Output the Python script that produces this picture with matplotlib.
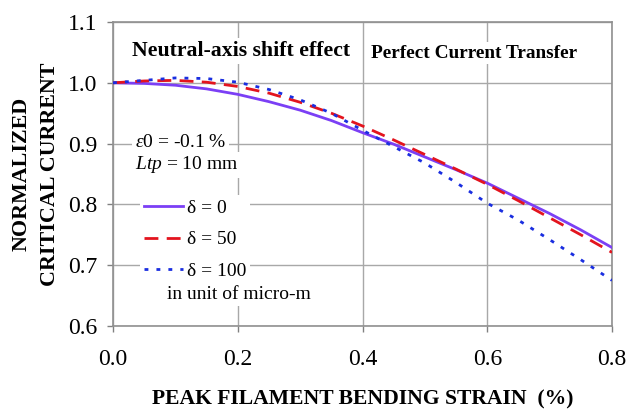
import numpy as np
import matplotlib
matplotlib.use("Agg")
import matplotlib.pyplot as plt
from matplotlib.lines import Line2D

plt.rcParams['font.family'] = ['Liberation Serif', 'DejaVu Serif']
plt.rcParams['mathtext.fontset'] = 'custom'
plt.rcParams['mathtext.rm'] = 'Liberation Serif'
plt.rcParams['mathtext.it'] = 'Liberation Serif:italic'

# Peak filament bending strain (%)
strain = [0.00, 0.05, 0.10, 0.15, 0.20, 0.25, 0.30, 0.35, 0.40,
          0.45, 0.50, 0.55, 0.60, 0.65, 0.70, 0.75, 0.80]

# Normalized critical current for each neutral-axis shift (micro-m)
ic_d0 = [1.000, 0.999, 0.996, 0.990, 0.981, 0.969, 0.955, 0.938, 0.918,
         0.899, 0.878, 0.857, 0.835, 0.810, 0.785, 0.758, 0.729]
ic_d50 = [1.000, 1.003, 1.004, 1.001, 0.994, 0.983, 0.968, 0.950, 0.929,
          0.906, 0.882, 0.858, 0.833, 0.806, 0.778, 0.750, 0.721]
ic_d100 = [1.000, 1.004, 1.008, 1.007, 1.001, 0.989, 0.972, 0.950, 0.922,
           0.895, 0.868, 0.836, 0.802, 0.774, 0.742, 0.709, 0.675]

labels = ["δ = 0", "δ = 50", "δ = 100"]
xticks = [0.0, 0.2, 0.4, 0.6, 0.8]
yticks = [0.6, 0.7, 0.8, 0.9, 1.0, 1.1]

fig = plt.figure(figsize=(6.26, 4.16), dpi=100)
ax = fig.add_axes([113 / 626, 1 - 326 / 416, 499 / 626, 304 / 416])

c0, c50, c100 = "#7B3FF5", "#E3141E", "#1A2EE0"
ls50 = (0, (5, 3))
ls100 = (0, (1.4, 2.9))
ax.plot(strain, ic_d0, color=c0, lw=2.0, ls="-", zorder=3)
ax.plot(strain, ic_d50, color=c50, lw=2.0, ls=ls50, zorder=3)
ax.plot(strain, ic_d100, color=c100, lw=2.0, ls=ls100, zorder=3)

ax.set_xlim(0, 0.8)
ax.set_ylim(0.6, 1.1)
ax.set_xticks(xticks)
ax.set_yticks(yticks)
ax.set_xticklabels([f"{v:.1f}" for v in xticks], fontsize=17)
ax.set_yticklabels([f"{v:.1f}" for v in yticks], fontsize=17)
ax.grid(True, color="#a8a8a8", lw=1.0, zorder=0)
ax.tick_params(direction="out", length=4.3, width=1.0, color="#808080")
ax.tick_params(axis="y", pad=7)
ax.tick_params(axis="x", pad=12)
for s in ax.spines.values():
    s.set_color("#909090")
    s.set_linewidth(1.2)

ax.set_xlabel("PEAK FILAMENT BENDING STRAIN  (%)", fontsize=15.6,
              fontweight="bold", labelpad=14)
ax.set_ylabel("NORMALIZED\nCRITICAL CURRENT", fontsize=15.8,
              fontweight="bold", linespacing=1.55)
ax.yaxis.set_label_coords(-0.106, 0.5)

white = dict(facecolor="white", edgecolor="none", pad=2)
ax.text(0.038, 0.905, "Neutral-axis shift effect", transform=ax.transAxes,
        fontsize=15.7, fontweight="bold", va="center", ha="left", bbox=white, zorder=5)
ax.text(0.517, 0.898, "Perfect Current Transfer", transform=ax.transAxes,
        fontsize=13.9, fontweight="bold", va="center", ha="left", bbox=white, zorder=5)
ax.text(0.044, 0.602, r"$\mathit{\varepsilon 0}$ = -0.1 %", transform=ax.transAxes,
        fontsize=14, va="center", ha="left", bbox=white, zorder=5)
ax.text(0.044, 0.530, r"$\mathit{Ltp}$ = 10 mm", transform=ax.transAxes,
        fontsize=14, va="center", ha="left", bbox=white, zorder=5)

handles = [Line2D([], [], color=c0, lw=2.0, ls="-"),
           Line2D([], [], color=c50, lw=2.0, ls=ls50),
           Line2D([], [], color=c100, lw=2.0, ls=ls100)]
leg = ax.legend(handles, labels, loc="upper left", bbox_to_anchor=(0.055, 0.43),
                frameon=True, facecolor="white", edgecolor="none", framealpha=1,
                fontsize=14, handlelength=2.0, handletextpad=0.2,
                labelspacing=0.72, borderpad=0.2, borderaxespad=0)
leg.set_zorder(4)
ax.text(0.108, 0.102, "in unit of micro-m", transform=ax.transAxes,
        fontsize=14, va="center", ha="left", bbox=white, zorder=5)

fig.savefig("out.png", dpi=100)
